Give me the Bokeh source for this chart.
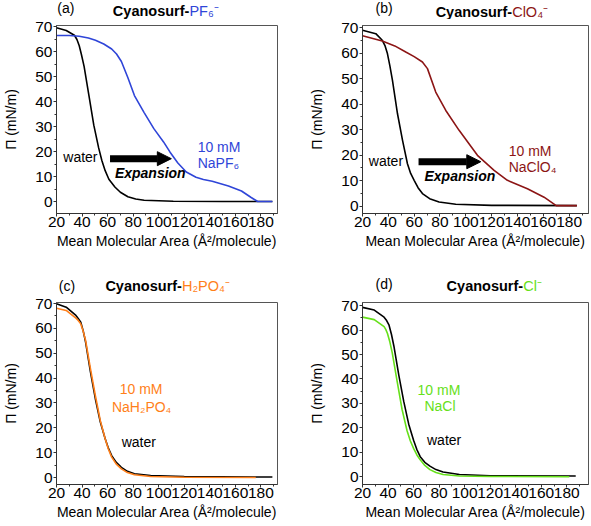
from bokeh.plotting import figure
from bokeh.layouts import gridplot
from bokeh.models import Label, Arrow, NormalHead, FixedTicker, Range1d
from bokeh.embed import file_html
from bokeh.resources import INLINE

# ---------------- data ----------------
x_ticks = [20, 40, 60, 80, 100, 120, 140, 160, 180]
x_minor = [30, 50, 70, 90, 110, 130, 150, 170, 190]
y_ticks = [0, 10, 20, 30, 40, 50, 60, 70]
y_minor = [5, 15, 25, 35, 45, 55, 65]

a_water_x = [20, 27.6, 34, 36, 37.8, 39.5, 41.6, 45.4, 49.2, 53, 55.5, 58.1, 61, 65.7, 70, 75.9, 82, 88.6, 111.4, 150, 189]
a_water_y = [69.5, 68.4, 66.5, 64.8, 62.3, 58.8, 54.1, 42.4, 30.6, 21.5, 16.5, 12.4, 9.0, 5.9, 3.8, 2.0, 1.1, 0.6, 0.2, 0.1, 0.1]
a_salt_x = [20, 30, 37.8, 45, 50.5, 57, 63.2, 67, 70.8, 75.9, 81, 88.6, 96.2, 103.8, 108.9, 115, 121.6, 129.2, 135, 141.9, 154.6, 164.8, 172.4, 177.5, 189]
a_salt_y = [66.4, 66.4, 66.1, 65.4, 64.5, 63.0, 61.0, 59.0, 56.0, 49.5, 42.4, 35.6, 29.2, 23.9, 19.8, 15.5, 11.9, 9.8, 8.9, 8.2, 6.3, 4.3, 1.7, 0.1, 0.1]

b_water_x = [20, 30.3, 35.3, 37.5, 39.3, 41.2, 43.2, 47.1, 51, 54.8, 57.3, 60, 63, 66.4, 72, 79.3, 92.2, 120, 186]
b_water_y = [68.9, 67.6, 65.0, 62.8, 59.8, 55.0, 49.3, 36.2, 25.8, 16.6, 12.8, 10.1, 7.2, 4.9, 2.9, 1.6, 0.7, 0.3, 0.2]
b_salt_x = [20, 35.3, 45, 53.5, 60, 66.4, 70.3, 76.7, 84.5, 94.8, 109, 121.9, 132.2, 147.7, 160.6, 170, 186]
b_salt_y = [66.8, 64.7, 62.8, 60.4, 58.6, 56.5, 53.9, 44.7, 37.5, 29.7, 19.9, 14.0, 10.1, 6.8, 3.5, 0.2, 0.2]

c_water_x = [20, 27.6, 35.2, 37, 39, 40.9, 42.8, 46.6, 50.4, 54.3, 58.1, 60.5, 63.2, 66.8, 70.8, 75.5, 81, 93.7, 120, 189]
c_water_y = [69.9, 68.5, 65.2, 64.0, 62.5, 59.0, 54.4, 42.4, 31.7, 22.3, 15.6, 12.0, 8.8, 6.1, 4.1, 2.5, 1.5, 0.8, 0.4, 0.2]
c_salt_x = [20, 27.6, 35.2, 37, 39, 40.9, 42.8, 46.6, 50.4, 54.3, 58.1, 60.5, 63.2, 66.8, 70.8, 75.5, 81, 93.7, 120, 176]
c_salt_y = [68.1, 67.2, 64.1, 63.2, 61.8, 58.8, 55.1, 43.7, 33.0, 22.9, 15.6, 11.6, 8.2, 5.4, 3.5, 2.0, 1.1, 0.4, 0.1, 0.0]

d_water_x = [20, 29.2, 36.9, 38.9, 40.8, 42.7, 44.6, 48.5, 52.3, 56.2, 60, 62.5, 65.2, 68.8, 72.8, 77.5, 83.1, 95.9, 120, 187]
d_water_y = [69.3, 68.2, 65.3, 63.9, 62.0, 58.2, 53.4, 41.4, 30.8, 21.5, 14.9, 11.2, 8.2, 5.9, 4.3, 2.9, 1.9, 0.9, 0.4, 0.3]
d_salt_x = [20, 29.2, 36.9, 38.2, 39.5, 41.4, 43.3, 47.2, 51, 54.9, 57.5, 60, 62.6, 65.2, 68.8, 72.8, 77.5, 83.1, 95.9, 120, 182]
d_salt_y = [65.3, 64.3, 61.4, 60.3, 58.7, 55.2, 50.7, 38.8, 27.5, 18.8, 14.6, 11.6, 8.9, 6.9, 4.6, 2.9, 1.7, 0.9, 0.3, 0.1, 0.0]

FONT = "Liberation Sans"
BLUE = "#2f45d8"
RED = "#8c1515"
ORANGE = "#ff7f1a"
GREEN = "#66e01a"


def title_strip(width, height, tag, tag_pos, anion, split_pos, color):
    """A thin axis-less figure (pixel coordinates, y downward) holding the panel tag and title."""
    t = figure(width=width, height=height, output_backend="svg", toolbar_location=None,
               x_range=Range1d(0, width), y_range=Range1d(height, 0),
               x_axis_location=None, y_axis_location=None, min_border=0)
    t.xgrid.visible = False
    t.ygrid.visible = False
    t.outline_line_color = None
    t.background_fill_color = "white"
    t.border_fill_color = "white"
    t.add_layout(Label(x=tag_pos[0], y=tag_pos[1], text=tag, text_font=FONT,
                       text_font_size="14px", text_baseline="middle", text_align="left",
                       text_color="black"))
    t.add_layout(Label(x=split_pos[0], y=split_pos[1], text="Cyanosurf-", text_font=FONT,
                       text_font_size="14.5px", text_font_style="bold",
                       text_baseline="middle", text_align="right", text_color="black"))
    t.add_layout(Label(x=split_pos[0], y=split_pos[1], text=anion, text_font=FONT,
                       text_font_size="14.5px", text_baseline="middle", text_align="left",
                       text_color=color))
    return t


def panel(width, height, borders, xr, yr, color, water, salt, texts, arrow=None):
    bl, br, bt, bb = borders
    p = figure(width=width, height=height, output_backend="svg", toolbar_location=None,
               x_range=Range1d(*xr), y_range=Range1d(*yr),
               min_border_left=bl, min_border_right=br, min_border_top=bt, min_border_bottom=bb)
    p.xgrid.visible = False
    p.ygrid.visible = False
    p.outline_line_color = "#555555"
    p.outline_line_width = 1
    p.background_fill_color = "white"
    p.border_fill_color = "white"

    p.xaxis.ticker = FixedTicker(ticks=x_ticks, minor_ticks=x_minor)
    p.yaxis.ticker = FixedTicker(ticks=y_ticks, minor_ticks=y_minor)
    for ax in (p.xaxis, p.yaxis):
        ax.axis_line_color = "#333333"
        ax.major_tick_line_color = "#333333"
        ax.minor_tick_line_color = "#333333"
        ax.major_tick_in = 0
        ax.major_tick_out = 3
        ax.minor_tick_in = 0
        ax.minor_tick_out = 2
        ax.major_label_text_font = FONT
        ax.major_label_text_font_size = "15.5px"
        ax.major_label_text_color = "black"
        ax.axis_label_text_font = FONT
        ax.axis_label_text_font_size = "14px"
        ax.axis_label_text_font_style = "normal"
        ax.axis_label_text_color = "black"
    p.xaxis.axis_label = "Mean Molecular Area (Å²/molecule)"
    p.xaxis.major_label_standoff = 0
    p.xaxis.axis_label_standoff = 3
    p.yaxis.axis_label = "Π (mN/m)"
    p.yaxis.major_label_standoff = 1
    p.yaxis.axis_label_standoff = 13

    p.line(water[0], water[1], line_color="black", line_width=1.6)
    p.line(salt[0], salt[1], line_color=color, line_width=1.6)

    for (tx, ty, txt, col, style) in texts:
        p.add_layout(Label(x=tx, y=ty, text=txt, text_font=FONT, text_font_size="14px",
                           text_font_style=style, text_baseline="middle", text_align="left",
                           text_color=col))
    if arrow is not None:
        x0, x1, ya = arrow
        p.add_layout(Arrow(end=NormalHead(size=14, fill_color="black", line_color="black",
                                          line_width=1),
                           x_start=x0, y_start=ya, x_end=x1, y_end=ya,
                           line_color="black", line_width=7))
    return p


ta = title_strip(296, 19, "(a)", (1, 7), "PF₆⁻", (178, 10), BLUE)
tb = title_strip(294, 19, "(b)", (17, 7), "ClO₄⁻", (194.7, 11), RED)
tc = title_strip(296, 34, "(c)", (3, 25), "H₂PO₄⁻", (168, 25), ORANGE)
td = title_strip(294, 34, "(d)", (17, 23), "Cl⁻", (209, 25), GREEN)

pa = panel(296, 241, (49, 19, 6, 43), (20, 193), (-4.7, 70.4), BLUE,
           (a_water_x, a_water_y), (a_salt_x, a_salt_y),
           [(25.3, 18, "water", "black", "normal"),
            (65.7, 11.3, "Expansion", "black", "bold italic"),
            (130.5, 21.9, "10 mM", BLUE, "normal"),
            (130.5, 15.3, "NaPF₆", BLUE, "normal")],
           arrow=(61.9, 109.9, 17.2))

pb = panel(294, 241, (66, 2, 6, 47), (20, 195), (-2.9, 70.8), RED,
           (b_water_x, b_water_y), (b_salt_x, b_salt_y),
           [(24.9, 17.5, "water", "black", "normal"),
            (68, 11.7, "Expansion", "black", "bold italic"),
            (133.2, 21.7, "10 mM", RED, "normal"),
            (133.2, 15.4, "NaClO₄", RED, "normal")],
           arrow=(63.4, 111.6, 17.4))

pc = panel(296, 231, (49, 19, 8, 41), (20, 193), (-2.8, 70.4), ORANGE,
           (c_water_x, c_water_y), (c_salt_x, c_salt_y),
           [(69.5, 35.7, "10 mM", ORANGE, "normal"),
            (63.4, 28.3, "NaH₂PO₄", ORANGE, "normal"),
            (71, 14.2, "water", "black", "normal")])

pd_ = panel(294, 231, (61, 2, 6, 38), (20, 197), (-3.2, 71.3), GREEN,
            (d_water_x, d_water_y), (d_salt_x, d_salt_y),
            [(63.1, 35.5, "10 mM", GREEN, "normal"),
             (68.5, 28.8, "NaCl", GREEN, "normal"),
             (70.5, 14.9, "water", "black", "normal")])

grid = gridplot([[ta, tb], [pa, pb], [tc, td], [pc, pd_]], toolbar_location=None)

open("out.html", "w").write(file_html(grid, INLINE))
